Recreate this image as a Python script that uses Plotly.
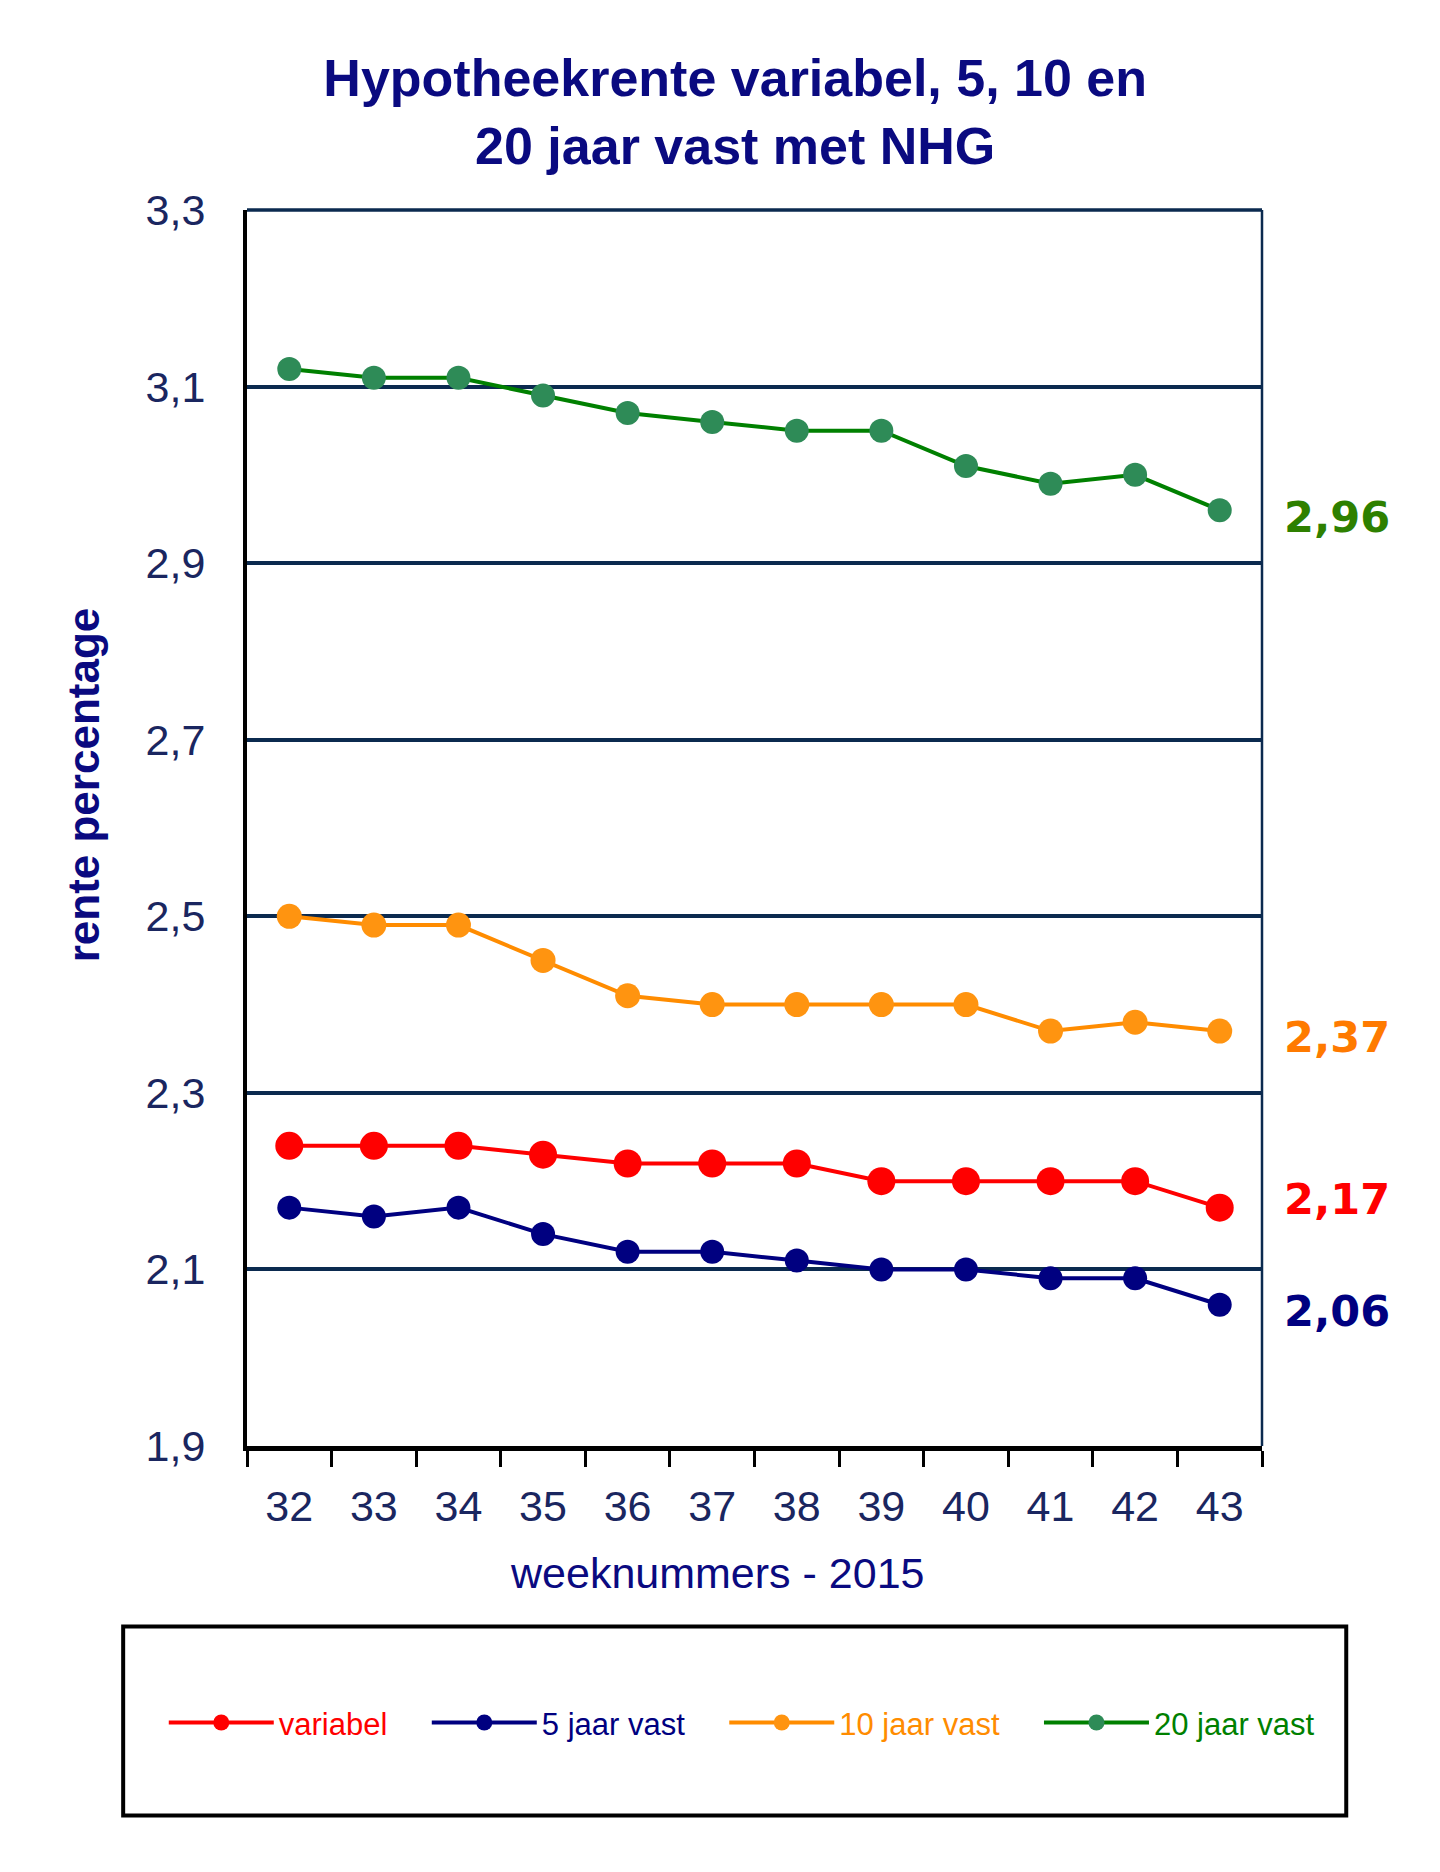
import plotly.graph_objects as go

# weeknummers 2015
weken = ["32", "33", "34", "35", "36", "37", "38", "39", "40", "41", "42", "43"]

variabel = [2.24, 2.24, 2.24, 2.23, 2.22, 2.22, 2.22, 2.20, 2.20, 2.20, 2.20, 2.17]
vast_5 = [2.17, 2.16, 2.17, 2.14, 2.12, 2.12, 2.11, 2.10, 2.10, 2.09, 2.09, 2.06]
vast_10 = [2.50, 2.49, 2.49, 2.45, 2.41, 2.40, 2.40, 2.40, 2.40, 2.37, 2.38, 2.37]
vast_20 = [3.12, 3.11, 3.11, 3.09, 3.07, 3.06, 3.05, 3.05, 3.01, 2.99, 3.00, 2.96]

NAVY = "#0A0A80"
GRID = "#0B2A4F"
SPATIE = "&nbsp;" * 4  # extra ruimte tussen de legenda-items

fig = go.Figure()

# volgorde: variabel, 5, 10, 20 (legende)
# (naam, data, lijnkleur, markerkleur, markergrootte, labelkleur, label verschuiving)
reeksen = [
    ("variabel", variabel, "#FF0000", "#FF0000", 28, "#FF0000", 9),
    ("5 jaar vast", vast_5, "#000080", "#000080", 24, "#000080", -6),
    ("10 jaar vast", vast_10, "#FF8C00", "#FF9410", 25, "#FF7A00", -6),
    ("20 jaar vast", vast_20, "#008000", "#2E8B57", 24, "#2E8000", -7),
]

for naam, waarden, lijnkleur, markerkleur, grootte, tekstkleur, schuif in reeksen:
    fig.add_trace(go.Scatter(
        x=weken, y=waarden, mode="lines+markers",
        name="<span style='color:%s'>%s</span>%s" % (lijnkleur, naam, SPATIE),
        line=dict(color=lijnkleur, width=4),
        marker=dict(color=markerkleur, size=grootte),
    ))
    # laatste waarde rechts naast de grafiek
    fig.add_annotation(
        x=1.02, xref="paper", y=waarden[-1], yref="y", yshift=schuif,
        text="<b>%s</b>" % ("%.2f" % waarden[-1]).replace(".", ","),
        showarrow=False, xanchor="left", yanchor="middle",
        font=dict(family="DejaVu Sans", size=43, color=tekstkleur),
    )

# y-as titel
fig.add_annotation(
    x=-0.161, xref="paper", y=0.535, yref="paper",
    text="<b>rente percentage</b>", textangle=-90, showarrow=False,
    xanchor="center", yanchor="middle",
    font=dict(family="Liberation Sans", size=44, color=NAVY),
)
# x-as titel
fig.add_annotation(
    x=0.463, xref="paper", y=-0.103, yref="paper",
    text="weeknummers - 2015", showarrow=False,
    xanchor="center", yanchor="middle",
    font=dict(family="Liberation Sans", size=43, color=NAVY),
)

# rand boven en rechts, kader om de legende
fig.add_shape(type="line", xref="paper", yref="paper", x0=0, x1=1, y0=1, y1=1,
              line=dict(color=GRID, width=3.5))
fig.add_shape(type="line", xref="paper", yref="paper", x0=1, x1=1, y0=0, y1=1,
              line=dict(color=GRID, width=2.5))
fig.add_shape(type="rect", xref="paper", yref="paper",
              x0=-0.122, x1=1.083, y0=-0.146, y1=-0.299,
              line=dict(color="black", width=4))

fig.update_layout(
    width=1440, height=1872,
    margin=dict(l=239, r=186, t=202, b=434),
    paper_bgcolor="white", plot_bgcolor="white",
    separators=",.",
    title=dict(
        text="<b>Hypotheekrente variabel, 5, 10 en<br>20 jaar vast met NHG</b>",
        x=0.505, xref="container", xanchor="center",
        y=0.953, yref="container", yanchor="top",
        font=dict(family="Liberation Sans", size=52, color=NAVY),
    ),
    showlegend=True,
    legend=dict(
        orientation="h", x=-0.082, xanchor="left", y=-0.224, yanchor="middle",
        itemwidth=105, font=dict(family="Liberation Sans", size=31),
        bgcolor="rgba(0,0,0,0)", itemclick=False,
    ),
    xaxis=dict(
        type="category", range=[-0.5, 11.5], tickson="boundaries",
        ticks="outside", ticklen=16, tickwidth=3, tickcolor="black",
        showline=True, linecolor="black", linewidth=5,
        showgrid=False, ticklabelstandoff=18,
        tickfont=dict(family="Liberation Sans", size=43, color="#1A2660"),
    ),
    yaxis=dict(
        range=[1.9, 3.3], dtick=0.2, tick0=1.9, tickformat=".1f",
        showline=True, linecolor="black", linewidth=4,
        showgrid=True, gridcolor=GRID, gridwidth=3.5, zeroline=False,
        ticks="", ticklabelstandoff=29,
        tickfont=dict(family="Liberation Sans", size=43, color="#1A2660"),
    ),
)

fig.write_html("out.html")
